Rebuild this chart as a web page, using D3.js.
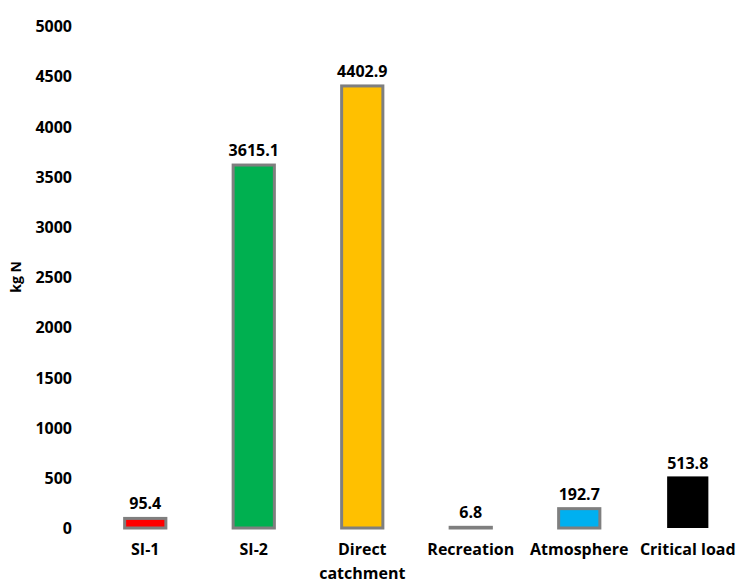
<!DOCTYPE html>
<html>
<head>
<meta charset="utf-8">
<script src="https://cdn.jsdelivr.net/npm/d3@7"></script>
<style>
  html, body { margin: 0; padding: 0; background: #fff; }
  svg text { font-family: "Open Sans", "Noto Sans", sans-serif; font-weight: 700; fill: #000; }
</style>
</head>
<body>
<svg id="chart" width="737" height="583"></svg>
<script>
// Nitrogen loads per source (kg N)
const categories = ["SI-1", "SI-2", "Direct catchment", "Recreation", "Atmosphere", "Critical load"];
const values = [95.4, 3615.1, 4402.9, 6.8, 192.7, 513.8];
const fills = ["#ff0000", "#00b050", "#ffc000", "#7f7f7f", "#00b0f0", "#000000"];
const outlined = [true, true, true, true, true, false];
const yTicks = [0, 500, 1000, 1500, 2000, 2500, 3000, 3500, 4000, 4500, 5000];

const svg = d3.select("#chart");

const x = d3.scaleBand()
  .domain(categories)
  .range([91, 742])
  .paddingInner(0.62)
  .paddingOuter(0.31);

const y = d3.scaleLinear()
  .domain([0, 5000])
  .range([528, 26]);

// Y axis: labels only, no domain line or tick marks
const yAxis = d3.axisLeft(y).tickValues(yTicks).tickFormat(d3.format("d")).tickSize(0).tickPadding(0);
const gy = svg.append("g").attr("transform", "translate(72,0)").call(yAxis);
gy.select(".domain").remove();
gy.selectAll("text")
  .attr("font-family", null)
  .attr("font-size", null)
  .style("font-size", "16px")
  .attr("dy", "0.35em");

// Axis title
svg.append("text")
  .attr("transform", "translate(21,277) rotate(-90)")
  .attr("text-anchor", "middle")
  .style("font-size", "14px")
  .text("kg N");

// Bars
const data = categories.map((c, i) => ({ c, v: values[i], fill: fills[i], outline: outlined[i] }));
const bw = x.bandwidth();

svg.append("g").selectAll("rect")
  .data(data)
  .join("rect")
  .attr("x", d => x(d.c))
  .attr("y", d => y(d.v))
  .attr("width", bw)
  .attr("height", d => y(0) - y(d.v))
  .attr("fill", d => d.fill)
  .attr("stroke", d => d.outline ? "#7f7f7f" : "none")
  .attr("stroke-width", 3);

// Value labels
svg.append("g").selectAll("text")
  .data(data)
  .join("text")
  .attr("x", d => x(d.c) + bw / 2)
  .attr("y", d => y(d.v) - (d.outline ? 9 : 7))
  .attr("text-anchor", "middle")
  .style("font-size", "16px")
  .text(d => d.v.toFixed(1));

// Category labels (the long one wraps onto two lines)
const xAxis = d3.axisBottom(x).tickSize(0).tickPadding(0);
const gx = svg.append("g").attr("transform", "translate(0,544)").call(xAxis);
gx.select(".domain").remove();
gx.selectAll("text")
  .attr("font-family", null)
  .attr("font-size", null)
  .style("font-size", "16px")
  .each(function(d) {
    const t = d3.select(this);
    const lines = d === "Direct catchment" ? ["Direct", "catchment"] : [d];
    t.text(null);
    lines.forEach((ln, i) => {
      t.append("tspan")
        .attr("x", 0)
        .attr("dy", i === 0 ? "0.71em" : "1.45em")
        .text(ln);
    });
  });
</script>
</body>
</html>
